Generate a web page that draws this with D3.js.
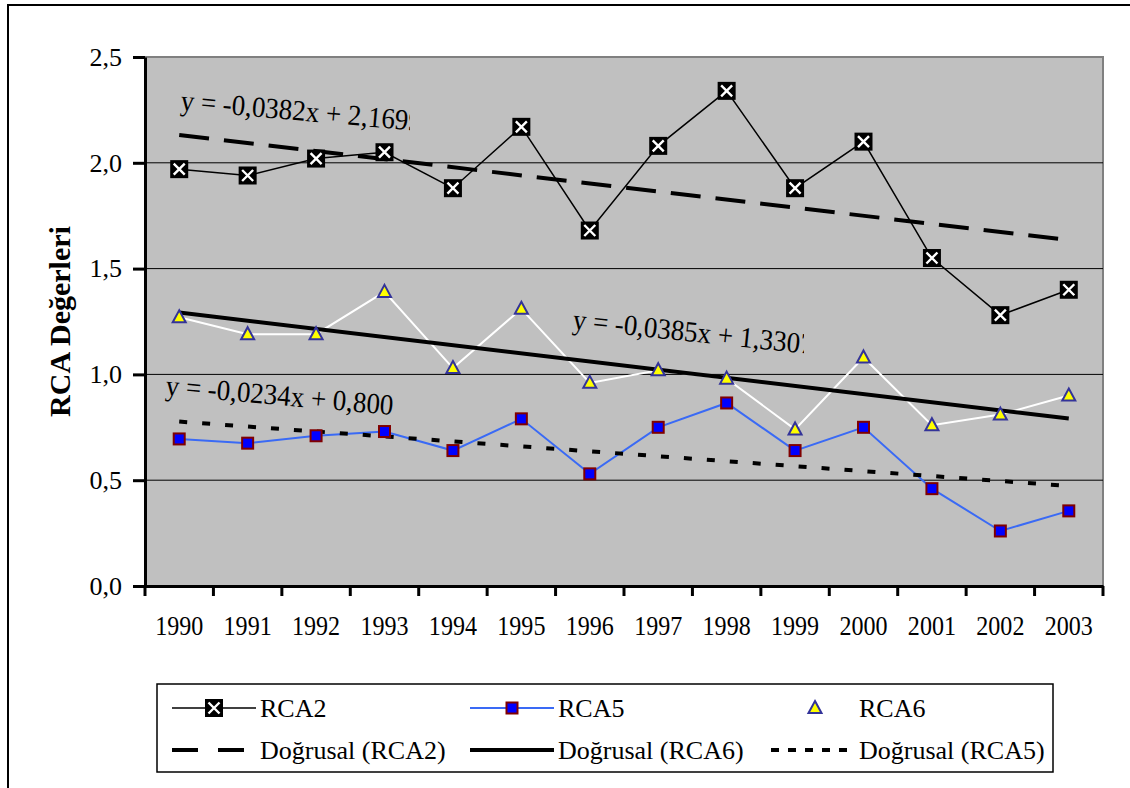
<!DOCTYPE html>
<html><head><meta charset="utf-8">
<script src="https://cdn.jsdelivr.net/npm/d3@7"></script>
<style>
body{margin:0;background:#fff}
text{font-family:"Liberation Serif","Times New Roman",serif;fill:#000}
</style>
</head><body>
<svg id="c" width="1130" height="788"></svg>
<script>
// ---- data ----
const years = [1990,1991,1992,1993,1994,1995,1996,1997,1998,1999,2000,2001,2002,2003];
const rca2 = [1.97,1.94,2.02,2.05,1.88,2.17,1.68,2.08,2.34,1.88,2.10,1.55,1.28,1.40];
const rca5 = [0.695,0.675,0.71,0.73,0.64,0.79,0.53,0.75,0.865,0.64,0.75,0.46,0.26,0.355];
const rca6 = [1.27,1.19,1.19,1.39,1.03,1.31,0.96,1.02,0.98,0.74,1.08,0.76,0.81,0.90];
const yTicks = [0,0.5,1.0,1.5,2.0,2.5];
const trendNames = ["RCA2","RCA6","RCA5"];
const trendSlope = [-0.0382,-0.0385,-0.0234];
const trendIntercept = [2.1699,1.3307,0.8004];
const trendLabels = ["y = -0,0382x + 2,1699","y = -0,0385x + 1,3307","y = -0,0234x + 0,800"];
const yTitle = "RCA Değerleri";

const svg = d3.select("#c");
// outer chart border
svg.append("rect").attr("x",8).attr("y",5).attr("width",1140).attr("height",800)
  .attr("fill","#fff").attr("stroke","#000").attr("stroke-width",2);

const L=145,R=1103,T=57,B=586;
const x = d3.scaleBand().domain(years).range([L,R]);
const y = d3.scaleLinear().domain([0,2.5]).range([B,T]);
const cx = d => x(d)+x.bandwidth()/2;

// plot area
svg.append("rect").attr("x",L).attr("y",T).attr("width",R-L).attr("height",B-T)
  .attr("fill","#c0c0c0").attr("stroke","#808080").attr("stroke-width",2);
// gridlines
svg.append("g").selectAll("line").data(yTicks.filter(v=>v>0&&v<2.5)).join("line")
  .attr("x1",L).attr("x2",R).attr("y1",d=>y(d)).attr("y2",d=>y(d))
  .attr("stroke","#000").attr("stroke-width",1);

// y axis
const fmt = d => d3.format(".1f")(d).replace(".",",");
const ya = svg.append("g").attr("transform",`translate(${L},0)`)
  .call(d3.axisLeft(y).tickValues(yTicks).tickFormat(fmt).tickSize(12).tickPadding(11).tickSizeOuter(0));
ya.select(".domain").attr("stroke","#000").attr("stroke-width",3);
ya.selectAll(".tick line").attr("stroke","#000").attr("stroke-width",3);
ya.selectAll(".tick text").style("font-size","26px").style("font-family","Liberation Serif");

// x axis
const xa = svg.append("g").attr("transform",`translate(0,${B})`)
  .call(d3.axisBottom(x).tickSize(0).tickPadding(29).tickSizeOuter(0));
xa.select(".domain").attr("stroke","#000").attr("stroke-width",3);
xa.selectAll(".tick text").style("font-size","28px").style("font-family","Liberation Serif")
  .attr("transform","scale(0.86,1)");
svg.append("g").selectAll("line").data(years.map(v=>x(v)).concat([R])).join("line")
  .attr("x1",d=>d).attr("x2",d=>d).attr("y1",B).attr("y2",B+10)
  .attr("stroke","#000").attr("stroke-width",3);

// y title
svg.append("text").attr("transform",`translate(70,${(T+B)/2}) rotate(-90)`)
  .attr("text-anchor","middle").style("font-size","30px").style("font-weight","bold")
  .text(yTitle);

// series lines
const line = d3.line().x((d,i)=>cx(years[i])).y(d=>y(d));
svg.append("path").datum(rca6).attr("d",line).attr("fill","none").attr("stroke","#fff").attr("stroke-width",2);
svg.append("path").datum(rca5).attr("d",line).attr("fill","none").attr("stroke","#3a6af5").attr("stroke-width",2);
svg.append("path").datum(rca2).attr("d",line).attr("fill","none").attr("stroke","#000").attr("stroke-width",1.5);

// trend lines
const trendStyle = {RCA2:{w:4,dash:"30,15"}, RCA6:{w:4,dash:null}, RCA5:{w:4,dash:"8,15"}};
trendNames.forEach((n,k)=>{
  const pts = [1,years.length].map(t=>[cx(years[t-1]), y(trendSlope[k]*t+trendIntercept[k])]);
  const p = svg.append("path").attr("d",d3.line()(pts)).attr("fill","none")
    .attr("stroke","#000").attr("stroke-width",trendStyle[n].w);
  if(trendStyle[n].dash) p.attr("stroke-dasharray",trendStyle[n].dash);
});

// markers
function m2(g,px,py){
  g.append("rect").attr("x",px-9).attr("y",py-9).attr("width",18).attr("height",18).attr("fill","#000");
  g.append("path").attr("d",`M${px-5.5},${py-5.5}L${px+5.5},${py+5.5}M${px+5.5},${py-5.5}L${px-5.5},${py+5.5}`)
    .attr("stroke","#fff").attr("stroke-width",2.4);
}
function m5(g,px,py){
  g.append("rect").attr("x",px-5.5).attr("y",py-5.5).attr("width",11).attr("height",11)
   .attr("fill","#0000ff").attr("stroke","#800000").attr("stroke-width",2);
}
function m6(g,px,py){
  g.append("path").attr("d",`M${px},${py-7}L${px+6.5},${py+5}L${px-6.5},${py+5}Z`)
   .attr("fill","#ffff00").attr("stroke","#333399").attr("stroke-width",2);
}
const mg = svg.append("g");
rca6.forEach((v,i)=>m6(mg,cx(years[i]),y(v)));
rca5.forEach((v,i)=>m5(mg,cx(years[i]),y(v)));
rca2.forEach((v,i)=>m2(mg,cx(years[i]),y(v)));

// equations
const eqPos = [{x:180,y:110,rot:5,clip:410},{x:572,y:329,rot:6,clip:804},{x:165,y:395,rot:5,clip:1000}];
const defs = svg.append("defs");
trendLabels.forEach((t,k)=>{
  const p = eqPos[k];
  defs.append("clipPath").attr("id","cl"+k).append("rect").attr("x",p.x-20).attr("y",p.y-60).attr("width",p.clip-p.x+20).attr("height",120);
  svg.append("g").attr("clip-path",`url(#cl${k})`)
    .append("text").attr("transform",`translate(${p.x},${p.y}) rotate(${p.rot}) scale(1,1.08)`)
    .style("font-size","27px").text(t);
});

// legend
svg.append("rect").attr("x",157).attr("y",684).attr("width",896).attr("height",88)
  .attr("fill","#fff").attr("stroke","#000").attr("stroke-width",1.5);
const legItems = [
  {label:"RCA2", x:172, y:708, kind:"s2"},
  {label:"RCA5", x:470, y:708, kind:"s5"},
  {label:"RCA6", x:771, y:708, kind:"s6"},
  {label:"Doğrusal (RCA2)", x:172, y:750, kind:"tRCA2"},
  {label:"Doğrusal (RCA6)", x:470, y:750, kind:"tRCA6"},
  {label:"Doğrusal (RCA5)", x:771, y:750, kind:"tRCA5"}
];
const legDash = {tRCA2:"26,20", tRCA5:"8,9"};
const lg = svg.append("g");
legItems.forEach(it=>{
  const x0=it.x, x1=it.x+84, xm=(x0+x1)/2;
  if(it.kind==="s2"){ lg.append("line").attr("x1",x0).attr("x2",x1).attr("y1",it.y).attr("y2",it.y).attr("stroke","#000").attr("stroke-width",1.5); m2(lg,xm,it.y); }
  if(it.kind==="s5"){ lg.append("line").attr("x1",x0).attr("x2",x1).attr("y1",it.y).attr("y2",it.y).attr("stroke","#3a6af5").attr("stroke-width",2); m5(lg,xm,it.y); }
  if(it.kind==="s6"){ m6(lg,xm+2,it.y); }
  if(it.kind[0]==="t"){
    const st = trendStyle[it.kind.slice(1)];
    const xe = it.kind==="tRCA2" ? x0+75 : (it.kind==="tRCA5" ? x0+76 : x1);
    const l = lg.append("line").attr("x1",x0).attr("x2",xe).attr("y1",it.y).attr("y2",it.y).attr("stroke","#000").attr("stroke-width",st.w);
    if(legDash[it.kind]) l.attr("stroke-dasharray", legDash[it.kind]);
  }
  lg.append("text").attr("x",x1+4).attr("y",it.y+9).style("font-size","26px").text(it.label);
});
</script>
</body></html>
